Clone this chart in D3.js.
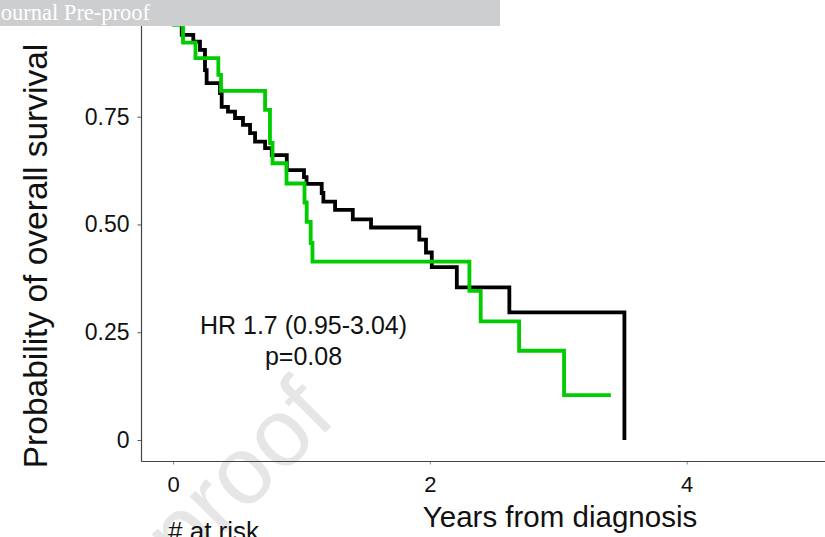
<!DOCTYPE html>
<html>
<head>
<meta charset="utf-8">
<script src="https://cdn.jsdelivr.net/npm/d3@7"></script>
<style>
  html, body { margin: 0; padding: 0; background: #fff; }
  svg { display: block; font-family: "Liberation Sans", Arial, sans-serif; }
</style>
</head>
<body>
<svg id="chart" width="825" height="537"></svg>
<script>
// Kaplan-Meier estimates: [years, survival after the event]
const blackTimes = [0, 0.023, 0.068, 0.158, 0.210, 0.249, 0.262, 0.366, 0.379, 0.428, 0.483, 0.545, 0.600, 0.639, 0.717, 0.769, 0.886, 1.020, 1.040, 1.158, 1.171, 1.262, 1.400, 1.542, 1.918, 1.970, 2.015, 2.210, 2.619, 3.515];
const blackSurv  = [1, 0.977, 0.940, 0.924, 0.905, 0.858, 0.828, 0.805, 0.773, 0.762, 0.747, 0.731, 0.712, 0.692, 0.677, 0.661, 0.626, 0.610, 0.594, 0.573, 0.553, 0.534, 0.512, 0.493, 0.465, 0.435, 0.401, 0.354, 0.296, 0.0];

const greenTimes = [0, 0.008, 0.078, 0.175, 0.353, 0.374, 0.717, 0.755, 0.775, 0.884, 1.024, 1.041, 1.072, 1.086, 2.308, 2.396, 2.695, 3.045, 3.409];
const greenSurv  = [1, 0.963, 0.922, 0.886, 0.847, 0.810, 0.766, 0.689, 0.642, 0.595, 0.551, 0.506, 0.457, 0.414, 0.346, 0.275, 0.207, 0.104, 0.104];

const yTicks = [0, 0.25, 0.50, 0.75];
const yTickLabels = ["0", "0.25", "0.50", "0.75"];
const xTicks = [0, 2, 4];
const xTickLabels = ["0", "2", "4"];

const hrText = "HR 1.7 (0.95-3.04)";
const pText = "p=0.08";

const SANS = "Liberation Sans, Arial, sans-serif";
const SERIF = "Liberation Serif, Times New Roman, serif";

const svg = d3.select("#chart");

const x = d3.scaleLinear().domain([0, 4]).range([173, 686.7]);
const y = d3.scaleLinear().domain([0, 0.75]).range([440, 116.7]);

const axisLeftX = 141.5;
const axisBottomY = 461.5;

// diagonal watermark
svg.append("text")
  .attr("transform", "translate(338,420) rotate(-45)")
  .attr("text-anchor", "end")
  .style("font-family", SANS)
  .style("font-size", "96px")
  .attr("fill", "#e6e6e6")
  .text("Journal Pre-proof");

// y axis
const yAxis = d3.axisLeft(y)
  .tickValues(yTicks)
  .tickFormat((d, i) => yTickLabels[i])
  .tickSize(4)
  .tickPadding(8);
const gy = svg.append("g").attr("transform", `translate(${axisLeftX},0)`).call(yAxis);
gy.select(".domain").remove();
gy.selectAll(".tick line").attr("stroke", "#555");
gy.selectAll(".tick text").style("font-size", "23px").style("font-family", SANS).attr("fill", "#111");
svg.append("line")
  .attr("x1", axisLeftX).attr("x2", axisLeftX)
  .attr("y1", 0).attr("y2", axisBottomY)
  .attr("stroke", "#444").attr("stroke-width", 1.2);

// x axis
const xAxis = d3.axisBottom(x)
  .tickValues(xTicks)
  .tickFormat((d, i) => xTickLabels[i])
  .tickSize(3)
  .tickPadding(12);
const gx = svg.append("g").attr("transform", `translate(0,${axisBottomY})`).call(xAxis);
gx.select(".domain").remove();
gx.selectAll(".tick line").attr("stroke", "#888");
gx.selectAll(".tick text").style("font-size", "22px").style("font-family", SANS).attr("fill", "#111");
svg.append("line")
  .attr("x1", axisLeftX).attr("x2", 825)
  .attr("y1", axisBottomY).attr("y2", axisBottomY)
  .attr("stroke", "#444").attr("stroke-width", 1.2);

// survival curves
const step = d3.line().x(d => x(d[0])).y(d => y(d[1])).curve(d3.curveStepAfter);
const blackData = blackTimes.map((t, i) => [t, blackSurv[i]]);
const greenData = greenTimes.map((t, i) => [t, greenSurv[i]]);

svg.append("path").datum(blackData)
  .attr("d", step).attr("fill", "none")
  .attr("stroke", "#000").attr("stroke-width", 3.8);
svg.append("path").datum(greenData)
  .attr("d", step).attr("fill", "none")
  .attr("stroke", "#00cc00").attr("stroke-width", 3.8);

// annotation
svg.append("text").attr("x", 303.5).attr("y", 334)
  .attr("text-anchor", "middle").style("font-size", "25px").attr("fill", "#111")
  .text(hrText);
svg.append("text").attr("x", 303.5).attr("y", 365)
  .attr("text-anchor", "middle").style("font-size", "25px").attr("fill", "#111")
  .text(pText);

// axis titles
svg.append("text")
  .attr("transform", "translate(47,256) rotate(-90)")
  .attr("text-anchor", "middle").style("font-size", "33.5px").attr("fill", "#111")
  .text("Probability of overall survival");
svg.append("text").attr("x", 560).attr("y", 527)
  .attr("text-anchor", "middle").style("font-size", "29.5px").attr("fill", "#111")
  .text("Years from diagnosis");
svg.append("text").attr("x", 168).attr("y", 540)
  .style("font-size", "26px").attr("fill", "#111")
  .text("# at risk");

// header banner
svg.append("rect").attr("x", 0).attr("y", 0).attr("width", 500).attr("height", 26)
  .attr("fill", "#cdced0");
svg.append("text").attr("x", -8).attr("y", 20)
  .style("font-family", SERIF)
  .style("font-size", "22.5px").attr("fill", "#fff")
  .text("Journal Pre-proof");
</script>
</body>
</html>
